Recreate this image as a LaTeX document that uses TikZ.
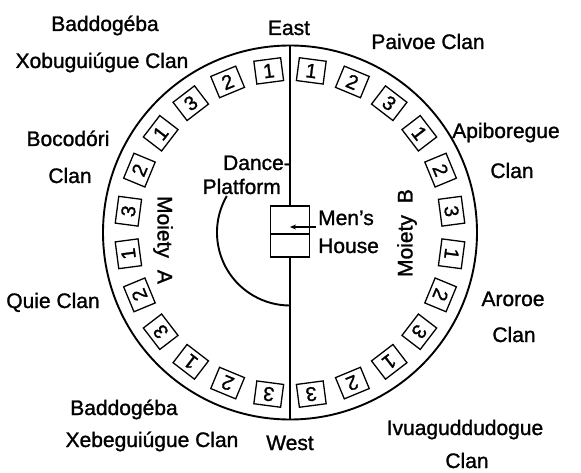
\documentclass[tikz,border=0pt]{standalone}
\usepackage{fontspec}
\setmainfont{Liberation Sans}[FakeBold=1.2]
\usetikzlibrary{arrows.meta, calc}

\begin{document}
\begin{tikzpicture}[
		x=1pt, y=1pt,
		garis/.style={line width=1.9pt},
		kotak/.style={draw, rectangle, line width=1.3pt, minimum width=27pt, minimum height=23pt, inner sep=0pt, font=\fontsize{20}{20}\selectfont},
		rumah/.style={draw, rectangle, line width=1.4pt, minimum width=39pt, minimum height=51pt, fill=white},
		klan/.style={anchor=base, inner sep=0pt, font=\fontsize{21}{24}\selectfont},
		kiri/.style={anchor=base east, inner sep=0pt, font=\fontsize{21}{24}\selectfont},
		kanan/.style={anchor=base west, inner sep=0pt, font=\fontsize{21}{24}\selectfont},
		moiety/.style={inner sep=0pt, font=\fontsize{21}{24}\selectfont},
		panah/.style={-{Stealth[length=6pt, width=5pt]}, line width=1.3pt}
	]
	\useasboundingbox (0,0) rectangle (581,472);

	% Lingkaran desa
	\coordinate (pusat) at (290,239.5);
	\draw[garis] (pusat) circle[radius=187];
	\path (pusat) ++(0,187) coordinate (timur);
	\path (pusat) ++(0,-187) coordinate (barat);
	\draw[garis] (timur) -- (barat);

	% Kotak klan (kiri: Moiety A, kanan: Moiety B)
	\foreach \k in {0,...,11}{
		\pgfmathtruncatemacro{\nomor}{mod(\k,3)+1}
		\pgfmathsetmacro{\sudutA}{97.5+15*\k}
		\pgfmathsetmacro{\sudutB}{82.5-15*\k}
		\node[kotak, rotate=\sudutA-90] (a\k) at ($(pusat)+(\sudutA:163)$) {\nomor};
		\node[kotak, rotate=\sudutB-90] (b\k) at ($(pusat)+(\sudutB:163)$) {\nomor};
	}

	% Panggung tari
	\draw[garis] (pusat) ++(150:73) arc[start angle=150, end angle=270, radius=73];

	% Rumah laki-laki
	\node[rumah] (rumah) at (290,240.5) {};
	\draw[line width=1.4pt] ([yshift=-2.5pt]rumah.west) -- ([yshift=-2.5pt]rumah.east);
	\node[kanan] (mens) at (318,247) {Men's};
	\node[kanan] (house) at (318,219) {House};
	\draw[panah] ([xshift=-2pt, yshift=-2pt]mens.base west) -- ([yshift=-2pt]mens.base west -| rumah.center);
	\node[kiri] (dance) at (291,302) {Dance-};
	\node[kiri] (platform) at (281,278) {Platform};

	% Arah mata angin
	\node[klan] (east) at (289,437) {East};
	\node[klan] (west) at (290,22) {West};

	% Moiety
	\node[moiety, rotate=-90] (moietya) at (163,232) {Moiety\hspace{12pt}A};
	\node[moiety, rotate=90] (moietyb) at (407,239) {Moiety\hspace{12pt}B};

	% Nama klan kiri
	\node[klan] (badxo1) at (105,441) {Baddogéba};
	\node[klan] (badxo2) at (102,404) {Xobuguiúgue Clan};
	\node[klan] (boco1) at (68,326) {Bocodóri};
	\node[klan] (boco2) at (70,289) {Clan};
	\node[klan] (quie) at (53,164) {Quie Clan};
	\node[klan] (badxe1) at (124,57) {Baddogéba};
	\node[klan] (badxe2) at (152,25) {Xebeguiúgue Clan};

	% Nama klan kanan
	\node[klan] (paivoe) at (428,423) {Paivoe Clan};
	\node[klan] (api1) at (506,334) {Apiboregue};
	\node[klan] (api2) at (512,294) {Clan};
	\node[klan] (aro1) at (513,166) {Aroroe};
	\node[klan] (aro2) at (514,130) {Clan};
	\node[klan] (ivu1) at (465,37) {Ivuaguddudogue};
	\node[klan] (ivu2) at (467,4) {Clan};
\end{tikzpicture}
\end{document}
